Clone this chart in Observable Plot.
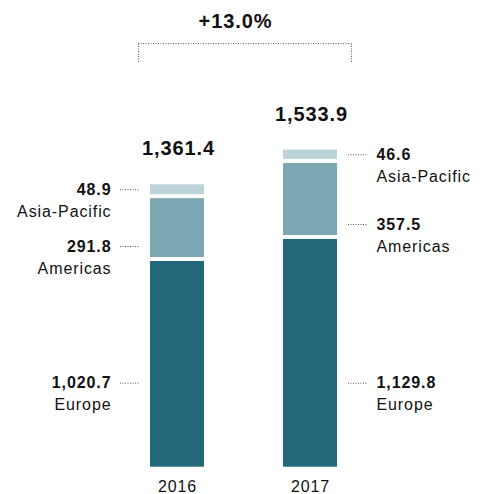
<!DOCTYPE html>
<html><head><meta charset="utf-8">
<script src="https://cdn.jsdelivr.net/npm/d3@7"></script>
<script src="https://cdn.jsdelivr.net/npm/@observablehq/plot@0.6"></script>
<style>
html,body{margin:0;padding:0;background:#fff;}
#chart svg text{letter-spacing:0.9px;}
</style></head><body><div id="chart"></div>
<script>
const years = ["2016", "2017"];
const regions = ["Europe", "Americas", "Asia-Pacific"];
const europe = [1020.7, 1129.8];
const americas = [291.8, 357.5];
const asiaPacific = [48.9, 46.6];
const totals = [1361.4, 1533.9];
const growthLabel = "+13.0%";
const colors = ["#22687a", "#7ca6b2", "#bed3d8"];

const W = 481, H = 494, baseY = 466.7, topY = 3.2, yMax = 2300;
const k = (baseY - topY) / yMax; // px per unit
const gapU = 4 / k;
const fmt = d3.format(",.1f");
const series = [europe, americas, asiaPacific];

const rows = [];
years.forEach((yr, i) => {
  let cum = 0;
  regions.forEach((r, j) => {
    const v = series[j][i];
    const y1 = cum + j * gapU;
    rows.push({year: yr, region: r, value: v, y1, y2: y1 + v, side: i === 0 ? "left" : "right"});
    cum += v;
  });
});
rows.forEach(d => {
  d.ly = d.region === "Asia-Pacific" ? (d.y1 + d.y2) / 2
       : d.region === "Americas" ? d.y1 + 11 / k
       : 84 / k;
});
const tops = years.map((yr, i) => ({year: yr, total: totals[i], top: totals[i] + 2 * gapU}));
const maxTop = d3.max(tops, d => d.top);
const bracketTop = maxTop + 106.5 / k;
const bracketBottom = bracketTop - 19 / k;

const left = rows.filter(d => d.side === "left");
const right = rows.filter(d => d.side === "right");
const font = "'Liberation Sans', Arial, Helvetica, sans-serif";
const dotted = {stroke: "#555", strokeWidth: 1, strokeDasharray: "1,1.5"};

const chart = Plot.plot({
  width: W, height: H,
  marginLeft: 110.5, marginRight: 104.5, marginTop: 0, marginBottom: H - baseY,
  style: {fontFamily: font, fontSize: "16px", color: "#111", background: "#fff"},
  x: {domain: years, paddingInner: 0.594, paddingOuter: 0.297, tickSize: 0, tickPadding: 13, label: null},
  y: {domain: [0, yMax], range: [baseY, topY], axis: null},
  color: {domain: regions, range: colors},
  marks: [
    Plot.barY(rows, {x: "year", y1: "y1", y2: "y2", fill: "region"}),
    Plot.tickY(left, {x: "year", y: "ly", dx: -30, insetRight: 35, ...dotted}),
    Plot.tickY(right, {x: "year", y: "ly", dx: 65, insetRight: 35, ...dotted}),
    Plot.text(left, {x: "year", y: "ly", text: d => fmt(d.value), dx: -66, textAnchor: "end", lineAnchor: "middle", fontWeight: "bold", fontSize: 16, fill: "#111"}),
    Plot.text(left, {x: "year", y: "ly", text: "region", dx: -66, dy: 22, textAnchor: "end", lineAnchor: "middle", fontSize: 16, fill: "#111"}),
    Plot.text(right, {x: "year", y: "ly", text: d => fmt(d.value), dx: 66, textAnchor: "start", lineAnchor: "middle", fontWeight: "bold", fontSize: 16, fill: "#111"}),
    Plot.text(right, {x: "year", y: "ly", text: "region", dx: 66, dy: 22, textAnchor: "start", lineAnchor: "middle", fontSize: 16, fill: "#111"}),
    Plot.text(tops, {x: "year", y: "top", text: d => fmt(d.total), dy: -29.5, dx: 1, lineAnchor: "bottom", fontWeight: "bold", fontSize: 20, fill: "#111"}),
    Plot.ruleX([years[0]], {x: d => d, y1: bracketBottom, y2: bracketTop, dx: -39, ...dotted}),
    Plot.ruleX([years[1]], {x: d => d, y1: bracketBottom, y2: bracketTop, dx: 41, ...dotted}),
    Plot.ruleY([bracketTop], {insetLeft: 27.5, insetRight: 25.5, ...dotted}),
    Plot.text([growthLabel], {y: bracketTop, text: d => d, dy: -16, dx: -8.5, lineAnchor: "bottom", fontWeight: "bold", fontSize: 20, fill: "#111"})
  ]
});
document.getElementById("chart").appendChild(chart);
</script></body></html>
